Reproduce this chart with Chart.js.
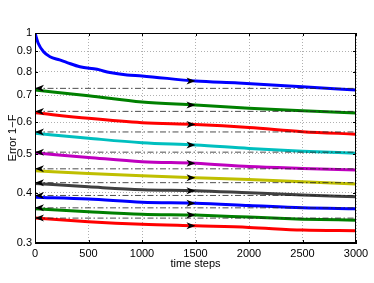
<!DOCTYPE html>
<html>
<head>
<meta charset="utf-8">
<script src="https://cdn.jsdelivr.net/npm/chart.js@4/dist/chart.umd.min.js"></script>
<style>
  html, body { margin: 0; padding: 0; background: #fff; }
</style>
</head>
<body>
<canvas id="chart" width="374" height="283"></canvas>
<script>
// ─── Dane ────────────────────────────────────────────────────────────────────

const steps = [0, 500, 1000, 1500, 2000, 2500, 3000];

// pierwsza krzywa ma gęstsze próbkowanie na początku (szybki spadek)
const firstSteps = [0, 30, 80, 140, 230, 300, 420, 580, 700, 860, 1000, 1500, 1900, 2500, 3000];
const blue1    = [1.0, 0.943, 0.898, 0.873, 0.857, 0.844, 0.824, 0.812, 0.797, 0.786, 0.782, 0.759, 0.751, 0.735, 0.721];

const green1   = [0.721, 0.698, 0.673, 0.662, 0.650, 0.640, 0.632];
const red1     = [0.633, 0.613, 0.598, 0.592, 0.582, 0.568, 0.560];
const cyan1    = [0.563, 0.547, 0.533, 0.526, 0.516, 0.508, 0.502];
const magenta1 = [0.503, 0.490, 0.478, 0.474, 0.465, 0.460, 0.456];
const yellow1  = [0.454, 0.447, 0.441, 0.436, 0.432, 0.426, 0.421];
const gray1    = [0.422, 0.414, 0.407, 0.405, 0.400, 0.395, 0.391];
const blue2    = [0.390, 0.386, 0.379, 0.377, 0.372, 0.367, 0.365];
const green2   = [0.365, 0.359, 0.354, 0.352, 0.348, 0.344, 0.342];
const red2     = [0.346, 0.339, 0.334, 0.331, 0.328, 0.323, 0.322];

// poziomy linii kreska-kropka (koniec poprzedniego etapu)
const dashLevels = [0.728, 0.638, 0.567, 0.505, 0.459, 0.424, 0.394, 0.367, 0.346];

const arrowStep = 1500;
const xTicks = [0, 500, 1000, 1500, 2000, 2500, 3000];
const yTicks = [0.3, 0.4, 0.5, 0.6, 0.7, 0.8, 0.9, 1];

const COLORS = {
  blue:    '#0000ff',
  green:   '#008000',
  red:     '#ff0000',
  cyan:    '#00bfbf',
  magenta: '#bf00bf',
  yellow:  '#bfbf00',
  gray:    '#404040',
  dash:    '#222222',
  grid:    '#b0b0b0',
  text:    '#000000',
};

const FONT = 'Liberation Sans, Arial, Helvetica, sans-serif';

// ─── Helpers ─────────────────────────────────────────────────────────────────

function toPoints(xs, ys) {
  return ys.map((v, i) => ({ x: xs[i], y: v }));
}

const curves = [
  { xs: firstSteps, ys: blue1,    color: COLORS.blue },
  { xs: steps,      ys: green1,   color: COLORS.green },
  { xs: steps,      ys: red1,     color: COLORS.red },
  { xs: steps,      ys: cyan1,    color: COLORS.cyan },
  { xs: steps,      ys: magenta1, color: COLORS.magenta },
  { xs: steps,      ys: yellow1,  color: COLORS.yellow },
  { xs: steps,      ys: gray1,    color: COLORS.gray },
  { xs: steps,      ys: blue2,    color: COLORS.blue },
  { xs: steps,      ys: green2,   color: COLORS.green },
  { xs: steps,      ys: red2,     color: COLORS.red },
];

const datasets = [];

dashLevels.forEach(v => {
  datasets.push({
    data: [{ x: 0, y: v }, { x: 3000, y: v }],
    borderColor: COLORS.dash,
    borderWidth: 0.8,
    borderDash: [6, 2.5, 1.5, 2.5],
    pointRadius: 0,
    order: 0,
  });
});

curves.forEach(c => {
  datasets.push({
    data: toPoints(c.xs, c.ys),
    borderColor: c.color,
    borderWidth: 3,
    pointRadius: 0,
    cubicInterpolationMode: 'monotone',
    order: 1,
  });
});

// grot strzałki w stylu MATLAB, czubek w (px, py)
function arrowHead(ctx, px, py, dir) {
  ctx.save();
  ctx.translate(px, py);
  ctx.scale(dir, 1);
  ctx.beginPath();
  ctx.moveTo(0, 0);
  ctx.lineTo(-9, -3.5);
  ctx.lineTo(-6.5, 0);
  ctx.lineTo(-9, 3.5);
  ctx.closePath();
  ctx.fill();
  ctx.restore();
}

const decorations = {
  id: 'decorations',
  afterDatasetsDraw(chart) {
    const { ctx, chartArea: a, scales: { x, y } } = chart;
    ctx.save();
    ctx.fillStyle = '#000';

    // strzałki w prawo na krzywych
    curves.forEach(c => {
      const i = c.xs.indexOf(arrowStep);
      arrowHead(ctx, x.getPixelForValue(arrowStep), y.getPixelForValue(c.ys[i]), 1);
    });
    // strzałki w lewo na liniach poziomych
    dashLevels.forEach(v => {
      arrowHead(ctx, x.getPixelForValue(0), y.getPixelForValue(v), -1);
    });

    // ramka + znaczniki do środka
    ctx.strokeStyle = '#000';
    ctx.lineWidth = 1;
    ctx.setLineDash([]);
    ctx.strokeRect(Math.round(a.left) + 0.5, Math.round(a.top) + 0.5,
                   Math.round(a.width) - 1, Math.round(a.height) - 1);
    ctx.beginPath();
    xTicks.forEach(t => {
      const px = Math.round(x.getPixelForValue(t)) + 0.5;
      ctx.moveTo(px, a.bottom); ctx.lineTo(px, a.bottom - 3);
      ctx.moveTo(px, a.top);    ctx.lineTo(px, a.top + 3);
    });
    yTicks.forEach(t => {
      const py = Math.round(y.getPixelForValue(t)) + 0.5;
      ctx.moveTo(a.left, py);  ctx.lineTo(a.left + 3, py);
      ctx.moveTo(a.right, py); ctx.lineTo(a.right - 3, py);
    });
    ctx.stroke();
    ctx.restore();
  },
};

new Chart(document.getElementById('chart'), {
  type: 'line',
  data: { datasets },
  plugins: [decorations],
  options: {
    responsive: false,
    animation: false,
    devicePixelRatio: 1,
    layout: { padding: { left: 0, top: 33, right: 18, bottom: 0 } },
    plugins: { legend: { display: false }, tooltip: { enabled: false } },
    scales: {
      x: {
        type: 'linear',
        min: 0,
        max: 3000,
        afterBuildTicks: s => { s.ticks = xTicks.map(v => ({ value: v })); },
        afterFit: s => { s.height = 40; },
        ticks: {
          color: COLORS.text,
          padding: 4,
          maxRotation: 0,
          font: { family: FONT, size: 11 },
          callback: v => String(v),
        },
        title: {
          display: true,
          text: 'time steps',
          color: COLORS.text,
          padding: 12,
          font: { family: FONT, size: 11 },
        },
        grid: { color: COLORS.grid, drawTicks: false, lineWidth: 1 },
        border: { color: '#000', dash: [1, 2] },
      },
      y: {
        type: 'logarithmic',
        min: 0.3,
        max: 1,
        afterBuildTicks: s => { s.ticks = yTicks.map(v => ({ value: v })); },
        afterFit: s => { s.width = 35; },
        ticks: {
          color: COLORS.text,
          padding: 3,
          font: { family: FONT, size: 11 },
          callback: v => (v === 1 ? '1' : v.toFixed(1)),
        },
        title: {
          display: true,
          text: 'Error 1\u2212F',
          color: COLORS.text,
          padding: 6,
          font: { family: FONT, size: 11 },
        },
        grid: { color: COLORS.grid, drawTicks: false, lineWidth: 1 },
        border: { color: '#000', dash: [1, 2] },
      },
    },
  },
});
</script>
</body>
</html>
